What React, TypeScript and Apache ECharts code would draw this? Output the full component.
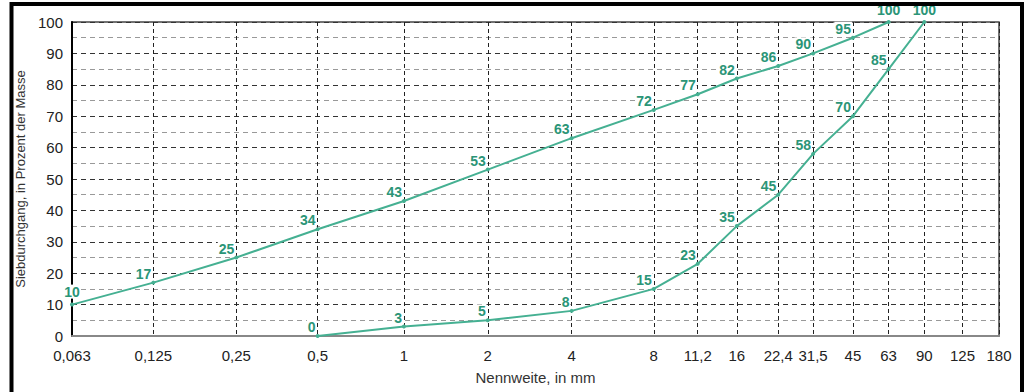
import React, { useEffect, useRef } from "react";
import * as echarts from "echarts";

// Sieve sizes (labels) and their positions on the (nearly logarithmic) x-axis
const sieveLabels = ["0,063", "0,125", "0,25", "0,5", "1", "2", "4", "8", "11,2", "16", "22,4", "31,5", "45", "63", "90", "125", "180"];
const sievePos = [0, 0.98, 1.98, 2.96, 4.0, 5.01, 6.02, 7.01, 7.54, 8.01, 8.51, 8.93, 9.41, 9.84, 10.27, 10.73, 11.17];

// Upper grading curve: sieve indices and passing percentages
const upperIdx = [0, 1, 2, 3, 4, 5, 6, 7, 8, 9, 10, 11, 12, 13];
const upperVals = [10, 17, 25, 34, 43, 53, 63, 72, 77, 82, 86, 90, 95, 100];

// Lower grading curve
const lowerIdx = [3, 4, 5, 6, 7, 8, 9, 10, 11, 12, 13, 14];
const lowerVals = [0, 3, 5, 8, 15, 23, 35, 45, 58, 70, 85, 100];

const yTicks = [0, 10, 20, 30, 40, 50, 60, 70, 80, 90, 100];

const FONT = "'Liberation Sans Narrow', 'Liberation Sans', Arial, sans-serif";
const LINE = "#45b092";
const LABEL = "#2b9577";

function buildData(idx: number[], vals: number[]) {
  return idx.map((i, k) => {
    const item: any = { value: [sievePos[i], vals[k]] };
    if (vals[k] === 100) {
      item.label = { position: "top", offset: [0, -1] };
    } else if (i === 0) {
      item.label = { position: "top", offset: [0, -2] };
    }
    return item;
  });
}

export default function App() {
  const ref = useRef<HTMLDivElement>(null);
  useEffect(() => {
    document.body.style.margin = "0";
    const chart = echarts.init(ref.current!, null, { renderer: "svg" });
    const labelStyle = {
      show: true,
      position: "left",
      offset: [3, -9],
      distance: 2,
      color: LABEL,
      fontFamily: FONT,
      fontWeight: "bold",
      fontSize: 14,
      backgroundColor: "#fff",
      padding: [0, 1, 0, 1],
      formatter: (p: any) => String(p.value[1]),
    };
    const seriesCommon = {
      type: "line",
      symbol: "circle",
      symbolSize: 4,
      itemStyle: { color: LINE },
      lineStyle: { color: LINE, width: 2 },
      label: labelStyle,
      z: 5,
    };
    chart.setOption({
      animation: false,
      backgroundColor: "#fff",
      textStyle: { fontFamily: FONT },
      grid: {
        left: 72,
        right: 29,
        top: 22,
        bottom: 56,
        show: true,
        borderColor: "#444",
        borderWidth: 1.5,
      },
      xAxis: {
        type: "value",
        min: 0,
        max: sievePos[sievePos.length - 1],
        name: "Nennweite, in mm",
        nameLocation: "middle",
        nameGap: 34,
        nameTextStyle: { fontFamily: FONT, fontSize: 15, color: "#333" },
        axisLine: { show: true, lineStyle: { color: "#888", width: 2 } },
        axisTick: { show: false, customValues: sievePos },
        axisLabel: {
          customValues: sievePos,
          fontFamily: FONT,
          fontSize: 15,
          color: "#222",
          margin: 12,
          formatter: (v: number) => {
            let best = 0;
            sievePos.forEach((p, i) => {
              if (Math.abs(p - v) < Math.abs(sievePos[best] - v)) best = i;
            });
            return sieveLabels[best];
          },
        },
        splitLine: {
          show: true,
          lineStyle: { color: "#222", width: 1, type: [4, 3] },
        },
      },
      yAxis: {
        type: "value",
        min: 0,
        max: 100,
        interval: 10,
        name: "Siebdurchgang, in Prozent der Masse",
        nameLocation: "middle",
        nameGap: 38,
        nameRotate: 90,
        nameTextStyle: { fontFamily: FONT, fontSize: 13, color: "#333" },
        axisLine: { show: true, lineStyle: { color: "#000", width: 2 } },
        axisTick: { show: false },
        axisLabel: {
          fontFamily: FONT,
          fontSize: 15,
          color: "#222",
          margin: 9,
          customValues: yTicks,
        },
        splitLine: {
          show: true,
          lineStyle: { color: "#333", width: 1, type: [5, 4] },
        },
        minorTick: { show: false, splitNumber: 2 },
        minorSplitLine: {
          show: true,
          lineStyle: { color: "#999", width: 1, type: [5, 4] },
        },
      },
      graphic: [
        {
          type: "rect",
          shape: { x: 11.5, y: 4, width: 1010.5, height: 420 },
          style: { fill: "none", stroke: "#000", lineWidth: 4 },
          z: 100,
          silent: true,
        },
      ],
      series: [
        { ...seriesCommon, name: "oben", data: buildData(upperIdx, upperVals) },
        { ...seriesCommon, name: "unten", data: buildData(lowerIdx, lowerVals) },
      ],
    });
    return () => chart.dispose();
  }, []);
  return <div ref={ref} style={{ width: 1028, height: 392 }} />;
}
